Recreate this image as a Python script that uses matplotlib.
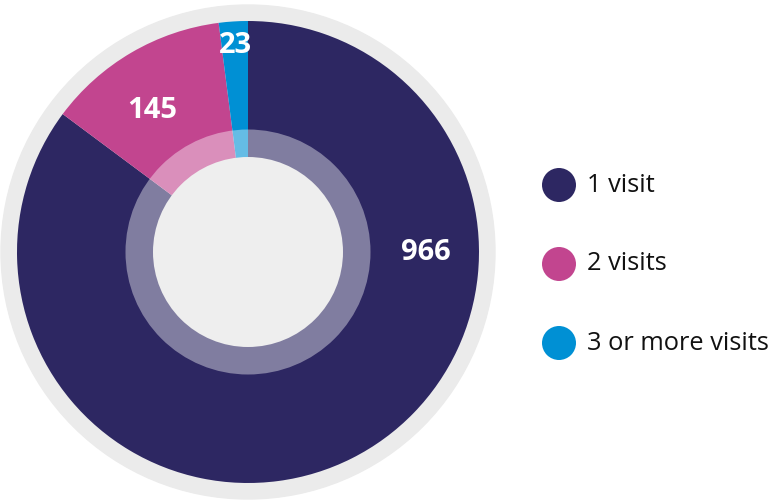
import matplotlib
matplotlib.use("Agg")
import matplotlib.pyplot as plt
from matplotlib.patches import Circle

labels = ["1 visit", "2 visits", "3 or more visits"]
counts = [966, 145, 23]
colors = ["#2d2762", "#c2458f", "#0090d4"]

plt.rcParams['font.family'] = ['Open Sans', 'DejaVu Sans']

fig = plt.figure(figsize=(7.74, 5.01), dpi=100)
ax = fig.add_axes([0, 0, 1, 1])

cx, cy = 248, 249

# grey outer ring
ax.add_patch(Circle((cx, cy), 247, color="#ebebeb", zorder=0))

wedges, _ = ax.pie(counts, colors=colors, startangle=90, counterclock=False,
                   radius=231, center=(cx, cy), frame=True,
                   wedgeprops=dict(linewidth=0))
ax.set_xlim(0, 774)
ax.set_ylim(0, 501)
ax.set_aspect('equal')
ax.axis('off')

# translucent ring and centre disk
ax.add_patch(Circle((cx, cy), 122.5, color="white", alpha=0.4, lw=0, zorder=3))
ax.add_patch(Circle((cx, cy), 95, color="#eeeeee", lw=0, zorder=4))

# value labels
label_pos = [(426, 252), (152, 110), (236, 45)]
for (x, y), v in zip(label_pos, counts):
    ax.text(x, 501 - y, str(v), color="white", fontsize=21, fontweight='bold',
            ha='center', va='center', zorder=5)

# legend
leg_y = [185, 264, 343]
for y, lab, col in zip(leg_y, labels, colors):
    ax.add_patch(Circle((559, 501 - y), 17, color=col, lw=0))
    ax.text(587, 501 - y, lab, fontsize=18.3, color="#111111", ha='left', va='center')

fig.savefig("out.png", dpi=100)
